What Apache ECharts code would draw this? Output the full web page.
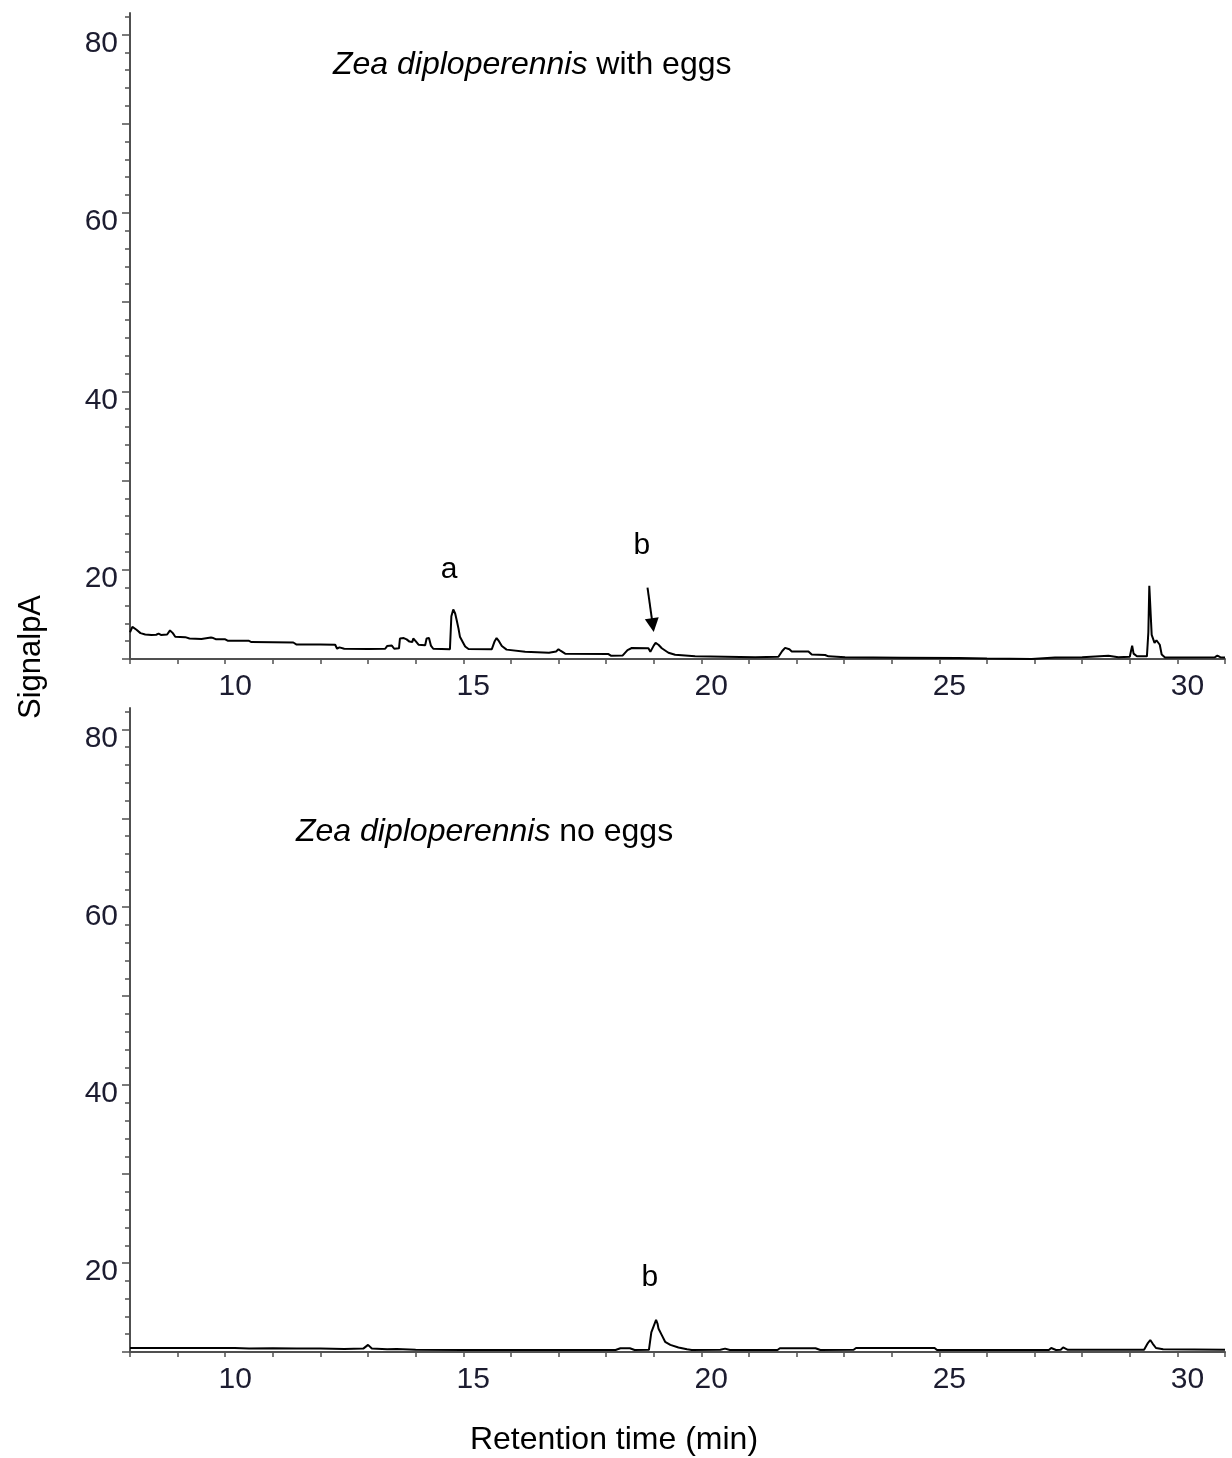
<!DOCTYPE html>
<html>
<head>
<meta charset="utf-8">
<script src="https://cdn.jsdelivr.net/npm/echarts@6/dist/echarts.min.js"></script>
<style>
  html, body { margin: 0; padding: 0; background: #fff; }
  #chart { width: 1232px; height: 1458px; }
</style>
</head>
<body>
<div id="chart"></div>
<script>
// ---- Data (retention time in min, signal in pA) ----
const topTime = [8.00, 8.05, 8.09, 8.13, 8.22, 8.32, 8.45, 8.55, 8.60, 8.65, 8.78, 8.84, 8.90, 8.95, 9.16, 9.25, 9.50, 9.70, 9.75, 9.80, 10.00, 10.05, 10.49, 10.55, 11.00, 11.43, 11.50, 12.00, 12.31, 12.35, 12.40, 12.50, 13.00, 13.36, 13.40, 13.50, 13.55, 13.65, 13.67, 13.75, 13.81, 13.87, 13.93, 13.95, 14.00, 14.06, 14.20, 14.23, 14.28, 14.32, 14.37, 14.72, 14.75, 14.79, 14.83, 14.86, 14.90, 14.93, 15.00, 15.04, 15.11, 15.60, 15.66, 15.70, 15.75, 15.81, 15.91, 16.30, 16.80, 16.95, 17.00, 17.05, 17.14, 18.05, 18.10, 18.35, 18.45, 18.54, 18.89, 18.93, 18.97, 19.00, 19.04, 19.10, 19.17, 19.31, 19.45, 19.87, 21.13, 21.62, 21.70, 21.76, 21.85, 21.90, 22.25, 22.32, 22.60, 22.67, 23.02, 24.20, 25.40, 26.00, 26.94, 27.43, 28.00, 28.55, 28.76, 29.00, 29.03, 29.05, 29.08, 29.15, 29.36, 29.39, 29.41, 29.43, 29.46, 29.52, 29.56, 29.59, 29.63, 29.67, 29.74, 30.79, 30.84, 30.90, 31.00];
const topSignal = [13.0, 13.6, 13.75, 13.3, 12.9, 12.75, 12.7, 12.72, 12.85, 12.7, 12.75, 13.2, 12.9, 12.5, 12.45, 12.3, 12.25, 12.4, 12.35, 12.22, 12.2, 12.05, 12.05, 11.9, 11.88, 11.85, 11.62, 11.62, 11.6, 11.15, 11.3, 11.15, 11.12, 11.15, 11.45, 11.5, 11.15, 11.2, 12.3, 12.35, 12.2, 11.95, 11.9, 12.3, 12.0, 11.6, 11.55, 12.3, 12.35, 11.5, 11.15, 11.1, 14.8, 15.55, 15.1, 14.4, 13.4, 12.5, 11.8, 11.4, 11.12, 11.1, 12.0, 12.35, 12.0, 11.45, 11.05, 10.8, 10.7, 10.85, 11.1, 10.9, 10.6, 10.55, 10.37, 10.4, 11.0, 11.23, 11.2, 10.8, 10.7, 11.5, 11.8, 11.6, 11.2, 10.7, 10.48, 10.3, 10.2, 10.25, 10.9, 11.25, 11.1, 10.85, 10.85, 10.5, 10.45, 10.3, 10.2, 10.15, 10.1, 10.05, 10.0, 10.18, 10.2, 10.37, 10.2, 10.25, 11.0, 11.5, 10.6, 10.3, 10.3, 13.0, 18.2, 18.0, 12.7, 11.8, 12.1, 12.2, 11.6, 10.5, 10.18, 10.2, 10.37, 10.2, 10.18];

const bottomTime = [8.00, 10.20, 10.50, 11.00, 11.50, 12.00, 12.50, 12.90, 13.00, 13.08, 13.40, 13.60, 14.00, 15.00, 16.00, 17.00, 18.20, 18.30, 18.50, 18.60, 18.90, 18.95, 19.00, 19.05, 19.08, 19.10, 19.17, 19.24, 19.35, 19.52, 19.70, 19.80, 20.40, 20.50, 20.60, 21.60, 21.65, 22.40, 22.50, 23.20, 23.25, 24.90, 24.95, 27.30, 27.35, 27.45, 27.55, 27.60, 27.70, 29.30, 29.38, 29.43, 29.48, 29.55, 29.70, 31.00];
const bottomSignal = [10.45, 10.45, 10.40, 10.42, 10.38, 10.40, 10.35, 10.38, 10.80, 10.40, 10.32, 10.35, 10.25, 10.22, 10.22, 10.22, 10.22, 10.42, 10.42, 10.22, 10.25, 12.2, 12.9, 13.6, 13.2, 12.65, 11.9, 11.15, 10.8, 10.5, 10.3, 10.22, 10.25, 10.38, 10.22, 10.22, 10.42, 10.42, 10.22, 10.25, 10.45, 10.45, 10.22, 10.22, 10.45, 10.22, 10.25, 10.52, 10.25, 10.25, 11.0, 11.35, 10.95, 10.45, 10.3, 10.25];

// ---- Tick / label values ----
const xLabelValues = [10, 15, 20, 25, 30];
const yLabelValues = [20, 40, 60, 80];
const yMajorTicks = [10, 20, 30, 40, 50, 60, 70, 80];
const yMinorTicks = [12, 14, 16, 18, 22, 24, 26, 28, 32, 34, 36, 38, 42, 44, 46, 48, 52, 54, 56, 58, 62, 64, 66, 68, 72, 74, 76, 78, 82];

const panelTitles = ['Zea diploperennis', 'Zea diploperennis'];
const panelSuffix = [' with eggs', ' no eggs'];
const yName = 'SignalpA';
const xName = 'Retention time (min)';

// annotations: [time, signal]
const annotA = { text: 'a', at: [14.70, 20.0] };
const annotBTop = { text: 'b', at: [18.75, 22.7] };
const arrowB = { from: [18.87, 18.0], to: [18.98, 13.8] };
const annotBBottom = { text: 'b', at: [18.92, 18.3] };

const FONT = "'Liberation Sans', Arial, sans-serif";
const TXT = '#1c1c30';
const AXIS = '#505050';

function pairs(t, v) { return t.map((x, i) => [x, v[i]]); }

function xAxisDef(gi) {
  return {
    type: 'value', gridIndex: gi, min: 8, max: 31, interval: 1,
    axisLine: { show: true, onZero: false, lineStyle: { color: AXIS, width: 2 } },
    axisTick: { show: true, length: 5, lineStyle: { color: AXIS, width: 1.5 } },
    axisLabel: { show: true, customValues: xLabelValues, fontSize: 30, fontFamily: FONT, color: TXT, margin: 13, padding: [0, 0, 0, 20] },
    splitLine: { show: false }
  };
}
function yMajorDef(gi) {
  return {
    type: 'value', gridIndex: gi, min: 10, max: 82.4,
    axisLine: { show: true, onZero: false, lineStyle: { color: AXIS, width: 2 } },
    axisTick: { show: true, customValues: yMajorTicks, length: 8, lineStyle: { color: AXIS, width: 1.5 } },
    axisLabel: { show: true, customValues: yLabelValues, fontSize: 30, fontFamily: FONT, color: TXT, margin: 12, verticalAlign: 'top', lineHeight: 18 },
    splitLine: { show: false }
  };
}
function yMinorDef(gi) {
  return {
    type: 'value', gridIndex: gi, min: 10, max: 82.4, position: 'left',
    axisLine: { show: false },
    axisTick: { show: true, customValues: yMinorTicks, length: 5, lineStyle: { color: AXIS, width: 1.5 } },
    axisLabel: { show: false },
    splitLine: { show: false }
  };
}

const textLabel = { show: true, position: 'inside', fontSize: 30, fontFamily: FONT, color: '#000' };

const chart = echarts.init(document.getElementById('chart'), null, { renderer: 'canvas' });
chart.setOption({
  animation: false,
  backgroundColor: '#fff',
  grid: [
    { left: 130, top: 13, width: 1095, height: 646 },
    { left: 130, top: 708, width: 1095, height: 644 }
  ],
  xAxis: [xAxisDef(0), xAxisDef(1)],
  yAxis: [yMajorDef(0), yMinorDef(0), yMajorDef(1), yMinorDef(1)],
  series: [
    {
      type: 'line', xAxisIndex: 0, yAxisIndex: 0, data: pairs(topTime, topSignal),
      showSymbol: false, lineStyle: { color: '#000', width: 2 },
      markPoint: {
        symbol: 'rect', symbolSize: 1, itemStyle: { color: 'rgba(0,0,0,0)' },
        label: textLabel,
        data: [
          { coord: annotA.at, value: annotA.text, label: { formatter: annotA.text } },
          { coord: annotBTop.at, value: annotBTop.text, label: { formatter: annotBTop.text } }
        ]
      },
      markLine: {
        silent: true, symbol: ['none', 'triangle'], symbolSize: [14, 14],
        lineStyle: { color: '#000', width: 2, type: 'solid' },
        label: { show: false },
        data: [[{ coord: arrowB.from }, { coord: arrowB.to }]]
      }
    },
    {
      type: 'line', xAxisIndex: 1, yAxisIndex: 2, data: pairs(bottomTime, bottomSignal),
      showSymbol: false, lineStyle: { color: '#000', width: 2 },
      markPoint: {
        symbol: 'rect', symbolSize: 1, itemStyle: { color: 'rgba(0,0,0,0)' },
        label: textLabel,
        data: [
          { coord: annotBBottom.at, value: annotBBottom.text, label: { formatter: annotBBottom.text } }
        ]
      }
    }
  ],
  graphic: [
    {
      type: 'text', left: 333, top: 49,
      style: {
        text: '{i|' + panelTitles[0] + '}' + panelSuffix[0],
        font: '32px ' + FONT, fill: '#000',
        rich: { i: { fontStyle: 'italic', fontSize: 32, fontFamily: FONT, fill: '#000' } }
      }
    },
    {
      type: 'text', left: 296, top: 816,
      style: {
        text: '{i|' + panelTitles[1] + '}' + panelSuffix[1],
        font: '32px ' + FONT, fill: '#000',
        rich: { i: { fontStyle: 'italic', fontSize: 32, fontFamily: FONT, fill: '#000' } }
      }
    },
    {
      type: 'text', x: 31, y: 657, rotation: Math.PI / 2,
      style: { text: yName, font: '31px ' + FONT, fill: '#000', align: 'center', verticalAlign: 'middle' }
    },
    {
      type: 'text', x: 614, y: 1440,
      style: { text: xName, font: '32px ' + FONT, fill: '#000', align: 'center', verticalAlign: 'middle' }
    }
  ]
});
</script>
</body>
</html>
